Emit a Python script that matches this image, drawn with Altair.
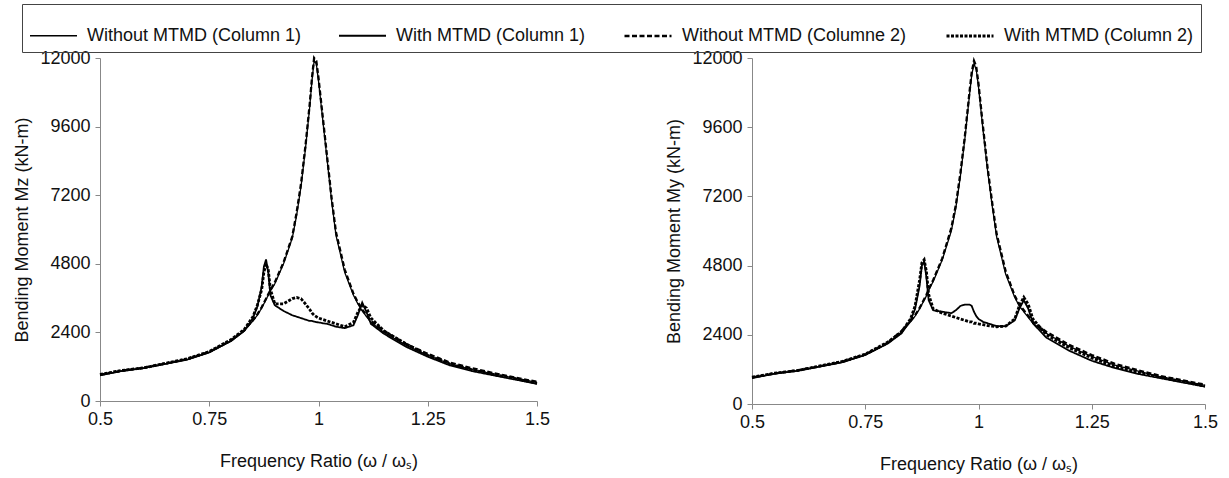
import altair as alt
import pandas as pd

freq = [0.5, 0.55, 0.6, 0.65, 0.7, 0.75, 0.8, 0.83, 0.85, 0.86, 0.87, 0.875, 0.88, 0.885, 0.89,
        0.9, 0.92, 0.94, 0.95, 0.96, 0.97, 0.98, 0.985, 0.99, 0.995, 1.0, 1.01, 1.02, 1.03, 1.04,
        1.06, 1.08, 1.09, 1.1, 1.11, 1.12, 1.15, 1.2, 1.25, 1.3, 1.35, 1.4, 1.45, 1.5]

series_names = ["Without MTMD (Column 1)", "With MTMD (Column 1)",
                "Without MTMD (Columne 2)", "With MTMD (Column 2)"]

# Left panel: Bending moment Mz
mz_without_c1 = [900, 1050, 1150, 1300, 1450, 1700, 2100, 2450, 2800, 3000, 3250, 3400, 3550, 3700, 3850,
                 4100, 4800, 5700, 6500, 7500, 8800, 10300, 11200, 11900, 11800, 11200, 9800, 8400, 7000, 5800,
                 4500, 3700, 3400, 3150, 2950, 2750, 2400, 1950, 1600, 1300, 1100, 950, 800, 650]
mz_with_c1 = [900, 1050, 1150, 1300, 1450, 1700, 2100, 2450, 2900, 3300, 4000, 4700, 4950, 4500, 3700,
              3350, 3150, 3000, 2950, 2900, 2850, 2800, 2800, 2780, 2760, 2750, 2720, 2700, 2650, 2600,
              2550, 2650, 3000, 3450, 3100, 2700, 2350, 1900, 1550, 1250, 1050, 900, 750, 600]
mz_without_c2 = [920, 1060, 1170, 1310, 1470, 1720, 2120, 2480, 2830, 3030, 3280, 3430, 3580, 3730, 3880,
                 4150, 4850, 5750, 6600, 7600, 8900, 10400, 11300, 12000, 11900, 11300, 9900, 8500, 7100, 5900,
                 4600, 3750, 3450, 3200, 3000, 2800, 2450, 2000, 1650, 1350, 1150, 980, 820, 670]
mz_with_c2 = [930, 1070, 1160, 1320, 1480, 1730, 2150, 2500, 2950, 3350, 3900, 4500, 4800, 4600, 3900,
              3400, 3400, 3580, 3620, 3580, 3400, 3200, 3080, 3000, 2950, 2900, 2850, 2800, 2750, 2700,
              2600, 2750, 3100, 3350, 3250, 2900, 2450, 2000, 1600, 1300, 1100, 930, 780, 620]

# Right panel: Bending moment My
my_without_c1 = [900, 1050, 1150, 1300, 1450, 1700, 2100, 2500, 2850, 3050, 3300, 3450, 3600, 3750, 3950,
                 4250, 5000, 6000, 6800, 7900, 9200, 10700, 11400, 11800, 11600, 11000, 9500, 8100, 6900, 5800,
                 4500, 3700, 3400, 3200, 3000, 2800, 2450, 2000, 1650, 1350, 1150, 950, 800, 650]
my_with_c1 = [900, 1050, 1150, 1300, 1450, 1700, 2100, 2450, 2900, 3300, 4100, 4800, 4950, 4400, 3600,
              3250, 3200, 3150, 3250, 3400, 3450, 3450, 3400, 3200, 3050, 2950, 2850, 2800, 2750, 2700,
              2700, 2900, 3300, 3600, 3300, 2800, 2300, 1850, 1500, 1250, 1050, 900, 750, 600]
my_without_c2 = [920, 1060, 1170, 1310, 1470, 1720, 2130, 2530, 2880, 3080, 3330, 3480, 3630, 3780, 3980,
                 4300, 5050, 6100, 6900, 8000, 9300, 10800, 11500, 11900, 11700, 11100, 9600, 8200, 7000, 5900,
                 4600, 3750, 3450, 3250, 3050, 2850, 2500, 2050, 1700, 1400, 1180, 980, 820, 670]
my_with_c2 = [930, 1070, 1160, 1320, 1480, 1730, 2150, 2500, 2950, 3400, 4300, 4900, 5000, 4600, 3800,
              3300, 3150, 3050, 3000, 2950, 2900, 2850, 2850, 2800, 2800, 2780, 2750, 2720, 2700, 2680,
              2700, 2950, 3400, 3700, 3450, 2950, 2400, 1950, 1600, 1300, 1100, 930, 780, 620]

x_ticks = [0.5, 0.75, 1, 1.25, 1.5]
y_ticks = [0, 2400, 4800, 7200, 9600, 12000]


def long_table(series_list):
    rows = []
    for name, vals in zip(series_names, series_list):
        for f, v in zip(freq, vals):
            rows.append({"freq": f, "moment": v, "series": name})
    return pd.DataFrame(rows)


df_left = long_table([mz_without_c1, mz_with_c1, mz_without_c2, mz_with_c2])
df_right = long_table([my_without_c1, my_with_c1, my_without_c2, my_with_c2])

dash_scale = alt.Scale(domain=series_names, range=[[1, 0], [1, 0], [5, 2.5], [3, 1.5]])
width_scale = alt.Scale(domain=series_names, range=[1.3, 2.8, 1.3, 3])
FONT = "Liberation Sans"
FS = 18


def panel(df, ytitle, w, h):
    return alt.Chart(df).mark_line(color="black", strokeCap="butt").encode(
        x=alt.X("freq:Q", scale=alt.Scale(domain=[0.5, 1.5], nice=False, zero=False),
                axis=alt.Axis(values=x_ticks, format=".2~f", title="Frequency Ratio (ω / ωₛ)",
                              titlePadding=24, labelFontSize=FS, titleFontSize=FS, labelPadding=4,
                              labelFlush=False)),
        y=alt.Y("moment:Q", scale=alt.Scale(domain=[0, 12000], nice=False),
                axis=alt.Axis(values=y_ticks, format="d", title=ytitle, titlePadding=8,
                              labelFontSize=FS, titleFontSize=FS, labelPadding=5,
                              labelFlush=False)),
        strokeDash=alt.StrokeDash("series:N", scale=dash_scale, title=None, sort=series_names),
        strokeWidth=alt.StrokeWidth("series:N", scale=width_scale, title=None, sort=series_names),
        order=alt.Order("freq:Q"),
    ).properties(width=w, height=h)


left = panel(df_left, "Bending Moment Mz (kN-m)", 437, 343)
right = panel(df_right, "Bending Moment My (kN-m)", 453, 346)

chart = alt.hconcat(left, right, spacing=115).configure(
    font=FONT,
    padding={"left": 13, "top": 3, "right": 5, "bottom": 5},
).configure_view(stroke=None).configure_axis(
    grid=False, domainColor="#888", tickColor="#888", labelColor="#111", titleColor="#111",
    labelFont=FONT, titleFont=FONT, titleFontWeight="normal", tickSize=5,
).configure_legend(
    orient="none", legendX=-78, legendY=-54, direction="horizontal",
    strokeColor="#444", padding=7, symbolType="stroke", symbolSize=2209,
    symbolStrokeColor="black", labelFontSize=FS, labelFont=FONT, labelColor="#111",
    labelLimit=400, columnPadding=33, symbolOffset=0, labelOffset=9,
)

chart.save("out.html", embed_options={"renderer": "svg", "actions": False})
